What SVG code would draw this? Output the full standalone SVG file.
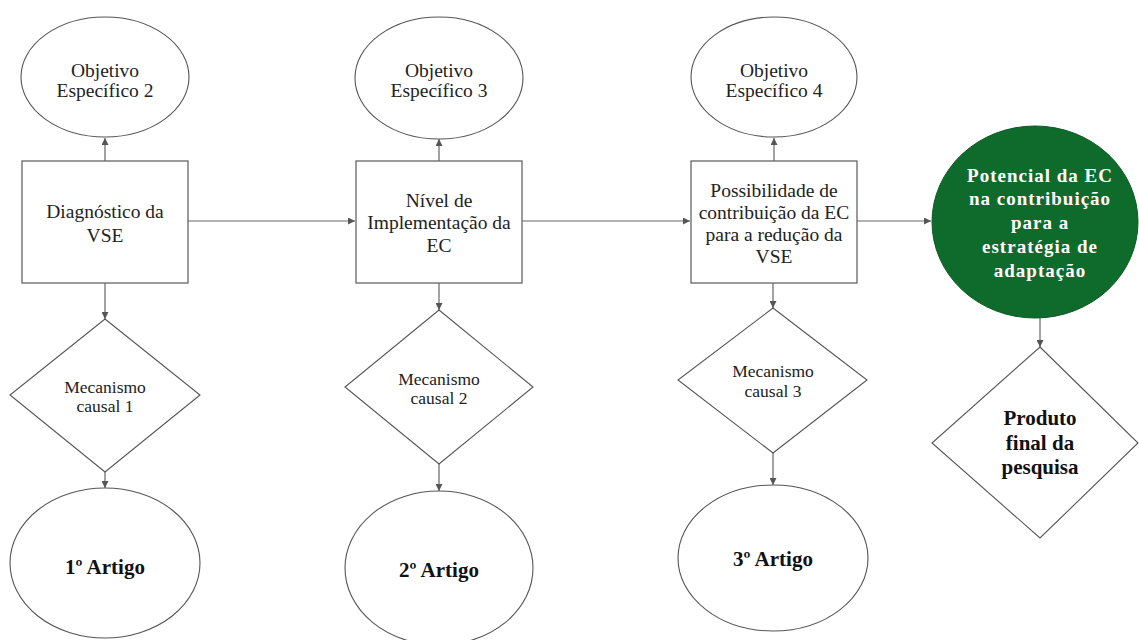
<svg xmlns="http://www.w3.org/2000/svg" width="1139" height="640" viewBox="0 0 1139 640">
<defs>
<marker id="ah" viewBox="0 0 8 8" refX="8" refY="4" markerWidth="7" markerHeight="7" markerUnits="userSpaceOnUse" orient="auto">
<path d="M0,0 L8,4 L0,8 Z" fill="#555"/>
</marker>
<style>
.shape{fill:#fff;stroke:#555;stroke-width:1.1}
.box{fill:#fff;stroke:#666;stroke-width:1.3}
.green{fill:#0e6b2c;stroke:#0a5a22;stroke-width:1}
text{font-family:'Liberation Serif','DejaVu Serif',serif;text-anchor:middle}
.t{font-size:19.5px;fill:#222}
.m{font-size:17.5px;fill:#222}
.b{font-size:21px;font-weight:bold;fill:#111}
.w{font-size:19px;font-weight:bold;fill:#fff;letter-spacing:1px}
.c{stroke:#666;stroke-width:1.2;fill:none;marker-end:url(#ah)}
</style>
</defs>
<rect width="1139" height="640" fill="#fff"/>

<g id="connectors">
<line class="c" x1="105" y1="161" x2="105" y2="138"/>
<line class="c" x1="439" y1="161" x2="439" y2="139"/>
<line class="c" x1="774" y1="161" x2="774" y2="138"/>
<line class="c" x1="188" y1="221" x2="355" y2="221"/>
<line class="c" x1="522" y1="221" x2="690" y2="221"/>
<line class="c" x1="857" y1="221" x2="931" y2="221"/>
<line class="c" x1="105" y1="283" x2="105" y2="319"/>
<line class="c" x1="439" y1="283" x2="439" y2="310"/>
<line class="c" x1="773" y1="283" x2="773" y2="308"/>
<line class="c" x1="105" y1="472" x2="105" y2="488"/>
<line class="c" x1="439" y1="464" x2="439" y2="491"/>
<line class="c" x1="773" y1="453" x2="773" y2="485"/>
<line class="c" x1="1040" y1="318" x2="1040" y2="347"/>
</g>

<g id="obj2">
<ellipse class="shape" cx="105" cy="77" rx="84" ry="60"/>
<text class="t" x="105" y="77" font-family="Liberation Serif, serif">Objetivo</text>
<text class="t" x="105" y="97">Específico 2</text>
</g>
<g id="obj3">
<ellipse class="shape" cx="439" cy="78" rx="84" ry="61"/>
<text class="t" x="439" y="77">Objetivo</text>
<text class="t" x="439" y="97">Específico 3</text>
</g>
<g id="obj4">
<ellipse class="shape" cx="774" cy="77" rx="83" ry="60"/>
<text class="t" x="774" y="77">Objetivo</text>
<text class="t" x="774" y="97">Específico 4</text>
</g>

<g id="diag">
<rect class="box" x="22" y="161" width="166" height="122"/>
<text class="t" x="105" y="218">Diagnóstico da</text>
<text class="t" x="105" y="242">VSE</text>
</g>
<g id="nivel">
<rect class="box" x="356" y="161" width="166" height="122"/>
<text class="t" x="439" y="207">Nível de</text>
<text class="t" x="439" y="229">Implementação da</text>
<text class="t" x="439" y="252">EC</text>
</g>
<g id="possib">
<rect class="box" x="691" y="161" width="166" height="122"/>
<text class="t" x="774" y="197">Possibilidade de</text>
<text class="t" x="774" y="219">contribuição da EC</text>
<text class="t" x="774" y="241">para a redução da</text>
<text class="t" x="774" y="263">VSE</text>
</g>

<g id="potencial">
<ellipse class="green" cx="1035" cy="222" rx="103" ry="96"/>
<text class="w" x="1040" y="182">Potencial da EC</text>
<text class="w" x="1040" y="205">na contribuição</text>
<text class="w" x="1040" y="229">para a</text>
<text class="w" x="1040" y="253">estratégia de</text>
<text class="w" x="1040" y="277">adaptação</text>
</g>

<g id="mec1">
<polygon class="shape" points="105,319 200,395 105,472 10,395"/>
<text class="m" x="105" y="393">Mecanismo</text>
<text class="m" x="105" y="412">causal 1</text>
</g>
<g id="mec2">
<polygon class="shape" points="439,310 533,387 439,464 345,387"/>
<text class="m" x="439" y="385">Mecanismo</text>
<text class="m" x="439" y="404">causal 2</text>
</g>
<g id="mec3">
<polygon class="shape" points="773,308 867,380 773,453 678,380"/>
<text class="m" x="773" y="377">Mecanismo</text>
<text class="m" x="773" y="397">causal 3</text>
</g>
<g id="produto">
<polygon class="shape" points="1040,347 1138,443 1040,538 932,443"/>
<text class="b" x="1040" y="425">Produto</text>
<text class="b" x="1040" y="450">final da</text>
<text class="b" x="1040" y="474">pesquisa</text>
</g>

<g id="art1">
<ellipse class="shape" cx="105" cy="563" rx="95" ry="75"/>
<text class="b" x="105" y="574">1º Artigo</text>
</g>
<g id="art2">
<ellipse class="shape" cx="439" cy="568" rx="94" ry="77"/>
<text class="b" x="439" y="577">2º Artigo</text>
</g>
<g id="art3">
<ellipse class="shape" cx="773" cy="558" rx="95" ry="73"/>
<text class="b" x="773" y="566">3º Artigo</text>
</g>
</svg>
